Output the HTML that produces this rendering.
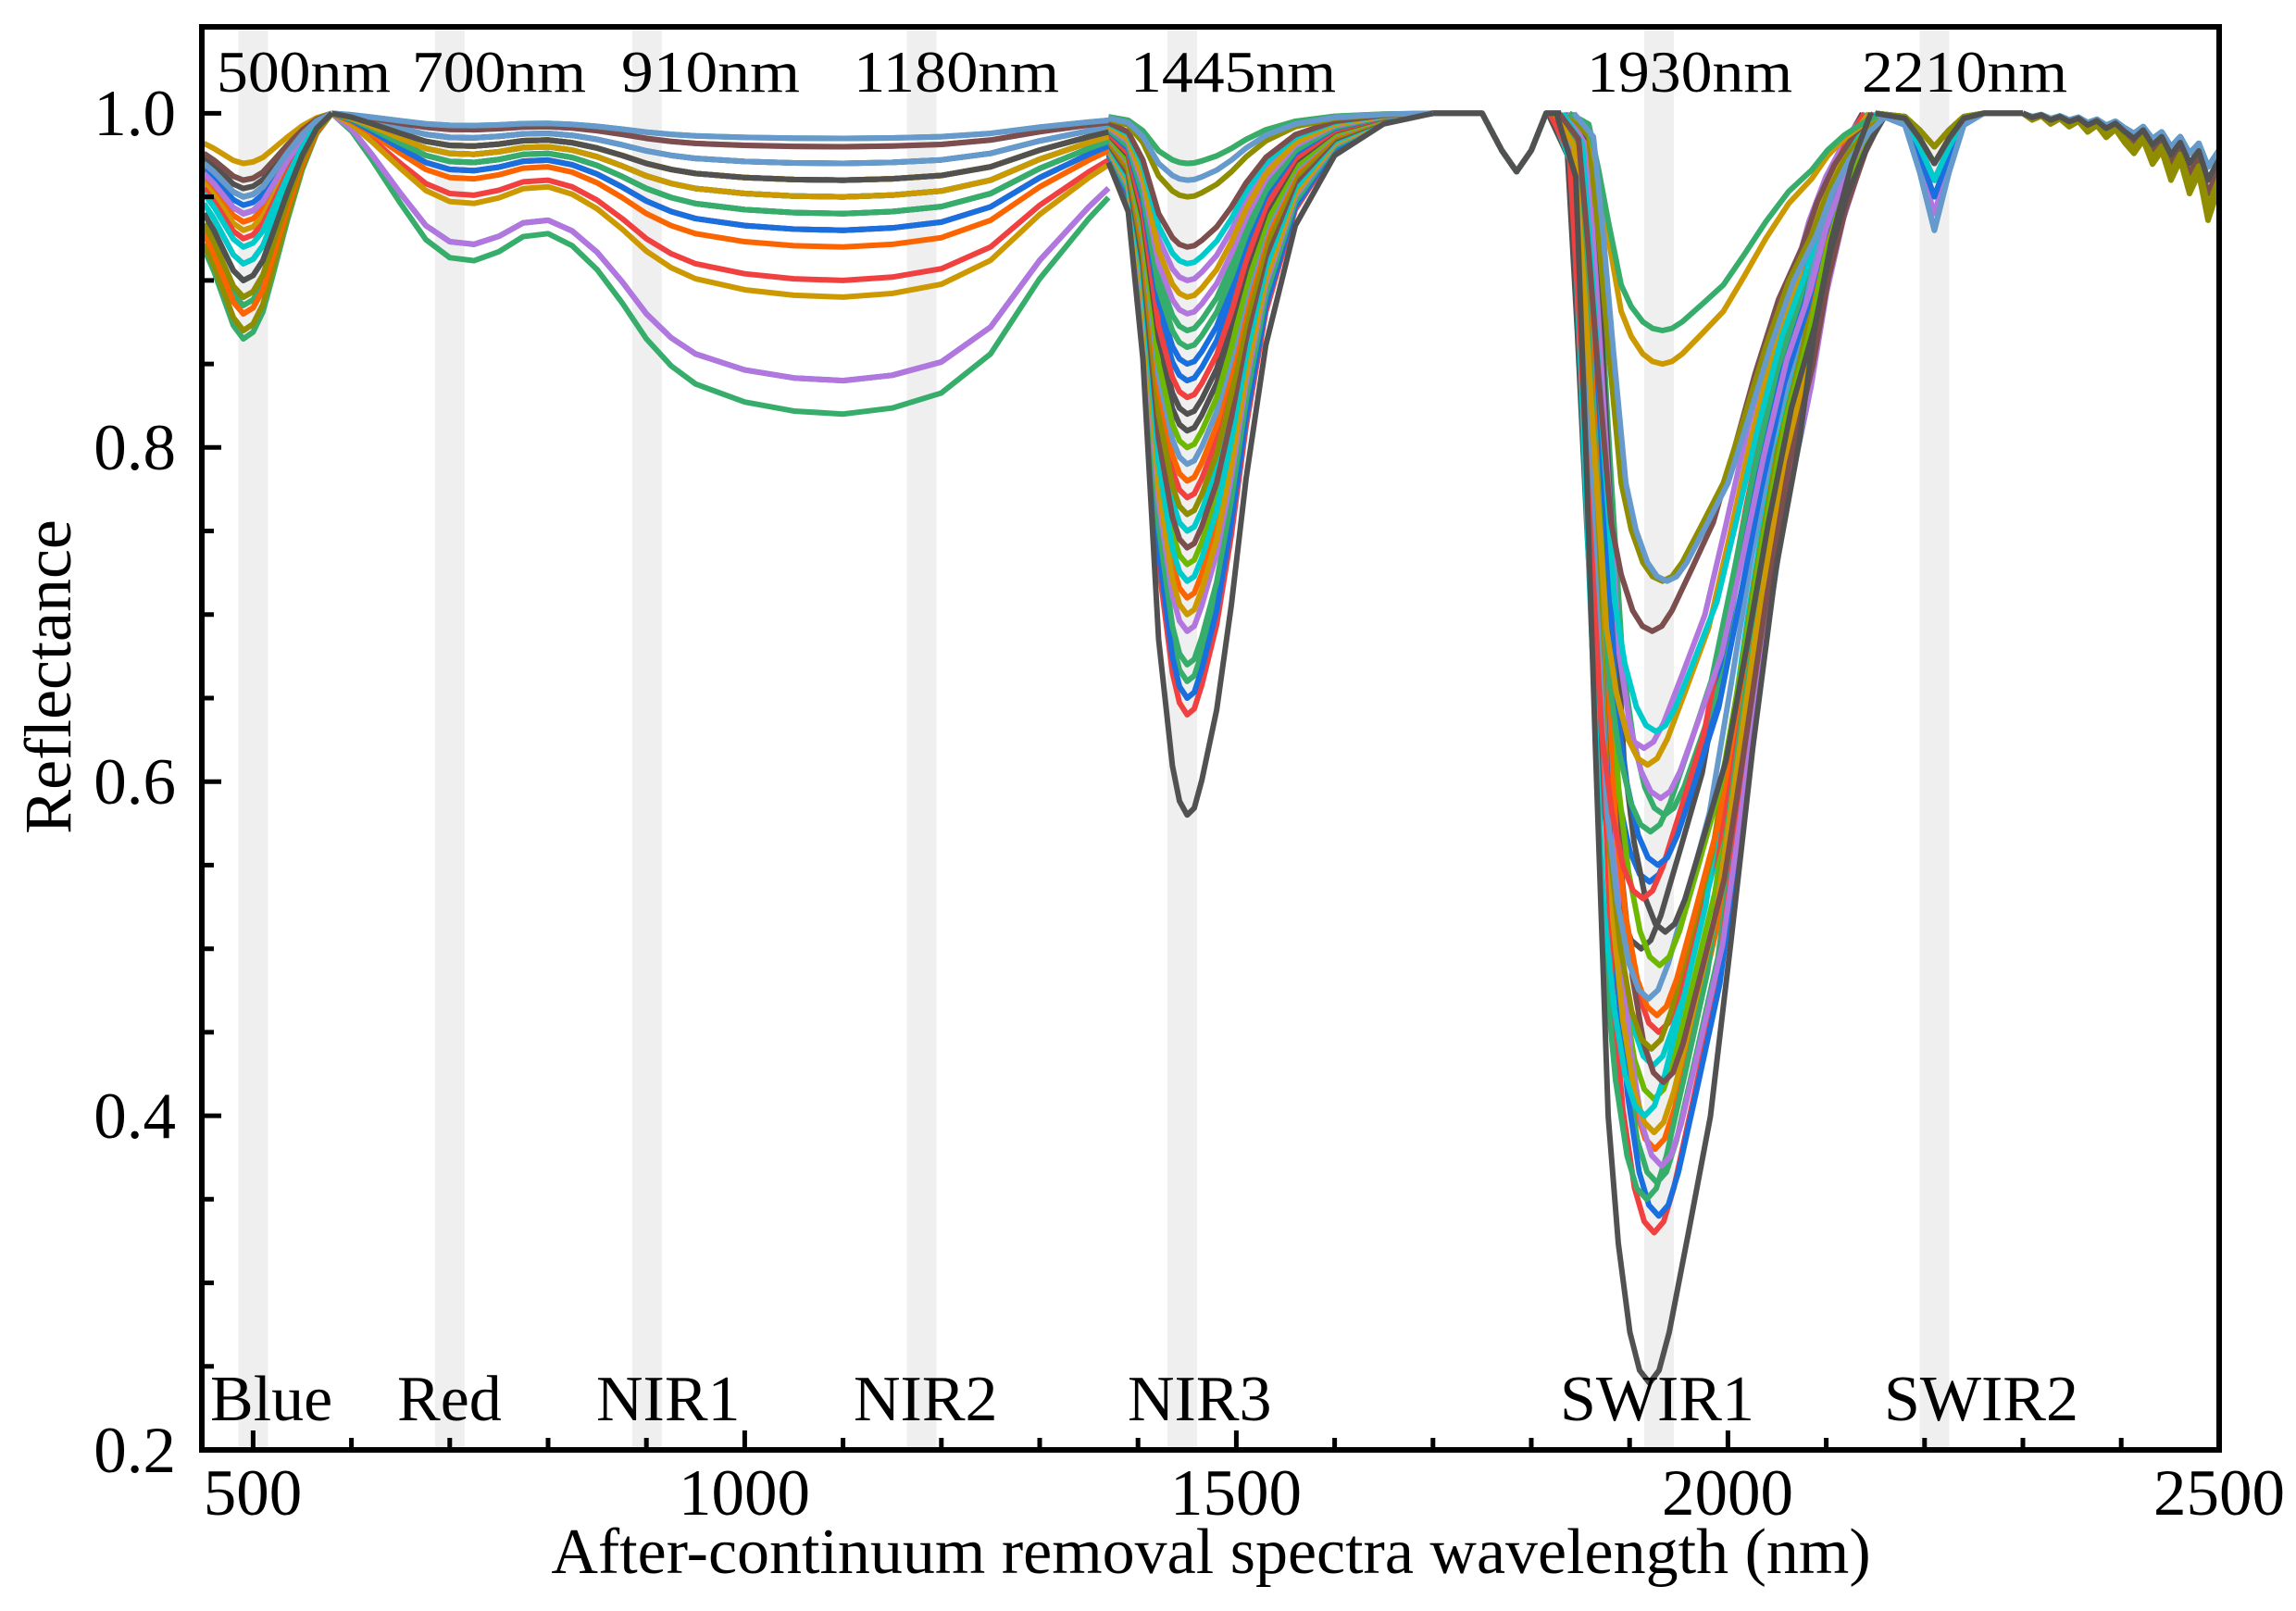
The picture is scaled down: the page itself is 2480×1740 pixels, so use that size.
<!DOCTYPE html>
<html><head><meta charset="utf-8">
<style>html,body{margin:0;padding:0;background:#fff;}svg{display:block;}</style>
</head><body>
<svg width="2480" height="1740" viewBox="0 0 2480 1740" xmlns="http://www.w3.org/2000/svg" xmlns:xlink="http://www.w3.org/1999/xlink" font-family="'Liberation Serif', serif">
<defs>
<path id="a" vector-effect="non-scaling-stroke" d="M220.3,60 L231,70 L241.5,82 L252,94 L262.8,100 L273.4,97 L284,88 L294.6,72 L310,48 L326.5,25 L342,9 L358.4,0"/>
<path id="b" vector-effect="non-scaling-stroke" d="M358.4,0 L380,6 L400.8,15 L432.7,30 L460,42 L485.8,48 L512,49 L538.9,46 L565,41 L592,40 L618,44 L645.1,52 L672,63 L698.2,75 L725,84 L751.3,90 L804.4,96 L857.5,99 L910.6,100 L963.7,98 L1016.8,93 L1069.9,80 L1123,55 L1176.1,35 L1197.3,28"/>
<path id="c" vector-effect="non-scaling-stroke" d="M1197.3,7 L1218.6,14 L1234.5,35 L1243,55 L1251.5,75 L1266.4,93 L1274,98 L1282.3,100 L1290,99 L1298.2,95 L1314.2,85 L1330.1,70 L1346,52 L1367.3,33 L1399.1,16 L1441.6,6 L1494.7,1.5 L1547.8,0"/>
<path id="s" vector-effect="non-scaling-stroke" d="M1547.8,0 L1600.9,0 L1622.1,40 L1638.1,63 L1654,40 L1670,0 L1686,0"/>
<path id="d" vector-effect="non-scaling-stroke" d="M1686,0 L1707.1,5 L1717.7,26 L1728.3,50 L1742.1,79 L1753,89 L1765.5,96 L1776,99 L1786.7,100 L1797,99 L1808,96 L1829.2,88 L1852.5,79 L1875,65 L1898.2,50 L1923,36 L1948.1,26 L1965,17 L1983.2,10 L2005,4 L2025.7,0"/>
<path id="e" vector-effect="non-scaling-stroke" d="M2025.7,0 L2057.6,10 L2073.5,50 L2089.4,100 L2105.3,50 L2121.2,10 L2142.5,0 L2185,0"/>
<path id="f" vector-effect="non-scaling-stroke" d="M2185,0 L2195,5 L2205,2 L2215,8 L2225,4 L2235,10 L2245,6 L2255,14 L2265,9 L2275,18 L2285,12 L2295,22 L2305,30 L2315,20 L2325,38 L2335,28 L2345,50 L2355,35 L2365,60 L2375,45 L2385,80 L2397,55"/>
</defs>
<rect width="2480" height="1740" fill="#fff"/>
<g fill="#efefef">
<rect x="257.4" y="32" width="32" height="1531"/>
<rect x="469.8" y="32" width="32" height="1531"/>
<rect x="682.8" y="32" width="32" height="1531"/>
<rect x="979.6" y="32" width="32" height="1531"/>
<rect x="1261" y="32" width="32" height="1531"/>
<rect x="1776.1" y="32" width="32" height="1531"/>
<rect x="2073.4" y="32" width="32" height="1531"/>
</g>
<g fill="none" stroke-width="6" stroke-linejoin="round">
<g stroke="#FB6501"><use href="#a" transform="translate(0,122.4) scale(1,1.173)"/><use href="#b" transform="translate(0,122.4) scale(1,.722)"/><use href="#c" transform="translate(0,122.4) scale(1,5.233)"/><use href="#s" transform="translate(0,122.4)"/><use href="#d" transform="translate(1,122.4) scale(1,11.188)"/><use href="#e" transform="translate(0,122.4) scale(1,.541)"/><use href="#f" transform="translate(0,122.4) scale(1,.902)"/></g>
<g stroke="#00CBCC"><use href="#a" transform="translate(0,122.4) scale(1,.722)"/><use href="#b" transform="translate(0,122.4) scale(1,.541)"/><use href="#c" transform="translate(0,122.4) scale(1,4.511)"/><use href="#s" transform="translate(0,122.4)"/><use href="#d" transform="translate(-1,122.4) scale(1,10.286)"/><use href="#e" transform="translate(0,122.4) scale(1,.361)"/><use href="#f" transform="translate(0,122.4) scale(1,.722)"/></g>
<g stroke="#37AD6B"><use href="#a" transform="translate(0,122.4) scale(1,2.075)"/><use href="#b" transform="translate(0,122.4) scale(1,.902)"/><use href="#c" transform="translate(0,122.4) scale(1,6.135)"/><use href="#s" transform="translate(0,122.4)"/><use href="#d" transform="translate(3,122.4) scale(1,11.549)"/><use href="#e" transform="translate(0,122.4) scale(1,.541)"/><use href="#f" transform="translate(0,122.4) scale(1,1.083)"/></g>
<g stroke="#6FB802"><use href="#a" transform="translate(0,122.4) scale(1,.722)"/><use href="#b" transform="translate(0,122.4) scale(1,.722)"/><use href="#c" transform="translate(0,122.4) scale(1,4.872)"/><use href="#s" transform="translate(0,122.4)"/><use href="#d" transform="translate(0,122.4) scale(1,10.647)"/><use href="#e" transform="translate(0,122.4) scale(1,.541)"/><use href="#f" transform="translate(0,122.4) scale(1,1.083)"/></g>
<g stroke="#515151"><use href="#a" transform="translate(0,122.4) scale(1,.812)"/><use href="#b" transform="translate(0,122.4) scale(1,.541)"/><use href="#c" transform="translate(0,122.4) scale(1,3.429)"/><use href="#s" transform="translate(0,122.4)"/><use href="#d" transform="translate(-14,122.4) scale(1,9.023)"/><use href="#e" transform="translate(0,122.4) scale(1,.361)"/><use href="#f" transform="translate(0,122.4) scale(1,.902)"/></g>
<g stroke="#F14040"><use href="#a" transform="translate(0,122.4) scale(1,1.624)"/><use href="#b" transform="translate(0,122.4) scale(1,.722)"/><use href="#c" transform="translate(0,122.4) scale(1,4.150)"/><use href="#s" transform="translate(0,122.4)"/><use href="#d" transform="translate(5,122.4) scale(1,9.925)"/><use href="#e" transform="translate(0,122.4) scale(1,.541)"/><use href="#f" transform="translate(0,122.4) scale(1,1.083)"/></g>
<g stroke="#1A6FDF"><use href="#a" transform="translate(0,122.4) scale(1,.992)"/><use href="#b" transform="translate(0,122.4) scale(1,1.263)"/><use href="#c" transform="translate(0,122.4) scale(1,2.887)"/><use href="#s" transform="translate(0,122.4)"/><use href="#d" transform="translate(-5,122.4) scale(1,8.301)"/><use href="#e" transform="translate(0,122.4) scale(1,.722)"/><use href="#f" transform="translate(0,122.4) scale(1,.902)"/></g>
<g stroke="#37AD6B"><use href="#a" transform="translate(0,122.4) scale(1,1.805)"/><use href="#b" transform="translate(0,122.4) scale(1,.902)"/><use href="#c" transform="translate(0,122.4) scale(1,2.346)"/><use href="#s" transform="translate(0,122.4)"/><use href="#d" transform="translate(11,122.4) scale(1,7.579)"/><use href="#e" transform="translate(0,122.4) scale(1,.541)"/><use href="#f" transform="translate(0,122.4) scale(1,1.083)"/></g>
<g stroke="#B177DE"><use href="#a" transform="translate(0,122.4) scale(1,.902)"/><use href="#b" transform="translate(0,122.4) scale(1,.361)"/><use href="#c" transform="translate(0,122.4) scale(1,1.805)"/><use href="#s" transform="translate(0,122.4)"/><use href="#d" transform="translate(-11,122.4) scale(1,6.857)"/><use href="#e" transform="translate(0,122.4) scale(1,.361)"/><use href="#f" transform="translate(0,122.4) scale(1,.902)"/></g>
<g stroke="#F14040"><use href="#a" transform="translate(0,122.4) scale(1,2.165)"/><use href="#b" transform="translate(0,122.4) scale(1,1.805)"/><use href="#c" transform="translate(0,122.4) scale(1,6.496)"/><use href="#s" transform="translate(0,122.4)"/><use href="#d" transform="translate(0,122.4) scale(1,12.090)"/><use href="#e" transform="translate(0,122.4) scale(1,.722)"/><use href="#f" transform="translate(0,122.4) scale(1,1.083)"/></g>
<g stroke="#1A6FDF"><use href="#a" transform="translate(0,122.4) scale(1,1.083)"/><use href="#b" transform="translate(0,122.4) scale(1,2.887)"/><use href="#c" transform="translate(0,122.4) scale(1,6.316)"/><use href="#s" transform="translate(0,122.4)"/><use href="#d" transform="translate(5,122.4) scale(1,11.910)"/><use href="#e" transform="translate(0,122.4) scale(1,.902)"/><use href="#f" transform="translate(0,122.4) scale(1,.722)"/></g>
<g stroke="#37AD6B"><use href="#a" transform="translate(0,122.4) scale(1,2.436)"/><use href="#b" transform="translate(0,122.4) scale(1,3.248)"/><use href="#c" transform="translate(0,122.4) scale(1,5.955)"/><use href="#s" transform="translate(0,122.4)"/><use href="#d" transform="translate(-8,122.4) scale(1,11.729)"/><use href="#e" transform="translate(0,122.4) scale(1,.541)"/><use href="#f" transform="translate(0,122.4) scale(1,1.263)"/></g>
<g stroke="#B177DE"><use href="#a" transform="translate(0,122.4) scale(1,2.346)"/><use href="#b" transform="translate(0,122.4) scale(1,2.887)"/><use href="#c" transform="translate(0,122.4) scale(1,5.594)"/><use href="#s" transform="translate(0,122.4)"/><use href="#d" transform="translate(8,122.4) scale(1,11.368)"/><use href="#e" transform="translate(0,122.4) scale(1,1.083)"/><use href="#f" transform="translate(0,122.4) scale(1,.902)"/></g>
<g stroke="#CC9900"><use href="#a" transform="translate(0,122.4) scale(1,1.263)"/><use href="#b" transform="translate(0,122.4) scale(1,1.985)"/><use href="#c" transform="translate(0,122.4) scale(1,5.414)"/><use href="#s" transform="translate(0,122.4)"/><use href="#d" transform="translate(0,122.4) scale(1,11.007)"/><use href="#e" transform="translate(0,122.4) scale(1,.722)"/><use href="#f" transform="translate(0,122.4) scale(1,1.083)"/></g>
<g stroke="#00CBCC"><use href="#a" transform="translate(0,122.4) scale(1,1.624)"/><use href="#b" transform="translate(0,122.4) scale(1,1.083)"/><use href="#c" transform="translate(0,122.4) scale(1,5.053)"/><use href="#s" transform="translate(0,122.4)"/><use href="#d" transform="translate(-10,122.4) scale(1,10.827)"/><use href="#e" transform="translate(0,122.4) scale(1,1.263)"/><use href="#f" transform="translate(0,122.4) scale(1,.722)"/></g>
<g stroke="#7D4E4E"><use href="#a" transform="translate(0,122.4) scale(1,1.985)"/><use href="#b" transform="translate(0,122.4) scale(1,.902)"/><use href="#c" transform="translate(0,122.4) scale(1,4.692)"/><use href="#s" transform="translate(0,122.4)"/><use href="#d" transform="translate(10,122.4) scale(1,10.466)"/><use href="#e" transform="translate(0,122.4) scale(1,.541)"/><use href="#f" transform="translate(0,122.4) scale(1,1.083)"/></g>
<g stroke="#8E8E00"><use href="#a" transform="translate(0,122.4) scale(1,2.346)"/><use href="#b" transform="translate(0,122.4) scale(1,.722)"/><use href="#c" transform="translate(0,122.4) scale(1,4.331)"/><use href="#s" transform="translate(0,122.4)"/><use href="#d" transform="translate(-3,122.4) scale(1,10.105)"/><use href="#e" transform="translate(0,122.4) scale(1,.361)"/><use href="#f" transform="translate(0,122.4) scale(1,1.444)"/></g>
<g stroke="#FB6501"><use href="#a" transform="translate(0,122.4) scale(1,2.165)"/><use href="#b" transform="translate(0,122.4) scale(1,1.444)"/><use href="#c" transform="translate(0,122.4) scale(1,3.970)"/><use href="#s" transform="translate(0,122.4)"/><use href="#d" transform="translate(3,122.4) scale(1,9.744)"/><use href="#e" transform="translate(0,122.4) scale(1,.722)"/><use href="#f" transform="translate(0,122.4) scale(1,.902)"/></g>
<g stroke="#6699CC"><use href="#a" transform="translate(0,122.4) scale(1,1.083)"/><use href="#b" transform="translate(0,122.4) scale(1,.541)"/><use href="#c" transform="translate(0,122.4) scale(1,3.789)"/><use href="#s" transform="translate(0,122.4)"/><use href="#d" transform="translate(-6,122.4) scale(1,9.564)"/><use href="#e" transform="translate(0,122.4) scale(1,1.263)"/><use href="#f" transform="translate(0,122.4) scale(1,.722)"/></g>
<g stroke="#6FB802"><use href="#a" transform="translate(0,122.4) scale(1,.902)"/><use href="#b" transform="translate(0,122.4) scale(1,.902)"/><use href="#c" transform="translate(0,122.4) scale(1,3.609)"/><use href="#s" transform="translate(0,122.4)"/><use href="#d" transform="translate(6,122.4) scale(1,9.203)"/><use href="#e" transform="translate(0,122.4) scale(1,.541)"/><use href="#f" transform="translate(0,122.4) scale(1,1.083)"/></g>
<g stroke="#515151"><use href="#a" transform="translate(0,122.4) scale(1,.902)"/><use href="#b" transform="translate(0,122.4) scale(1,1.083)"/><use href="#c" transform="translate(0,122.4) scale(1,3.248)"/><use href="#s" transform="translate(0,122.4)"/><use href="#d" transform="translate(12,122.4) scale(1,8.842)"/><use href="#e" transform="translate(0,122.4) scale(1,.361)"/><use href="#f" transform="translate(0,122.4) scale(1,.902)"/></g>
<g stroke="#F14040"><use href="#a" transform="translate(0,122.4) scale(1,1.353)"/><use href="#b" transform="translate(0,122.4) scale(1,1.263)"/><use href="#c" transform="translate(0,122.4) scale(1,3.068)"/><use href="#s" transform="translate(0,122.4)"/><use href="#d" transform="translate(-12,122.4) scale(1,8.481)"/><use href="#e" transform="translate(0,122.4) scale(1,.722)"/><use href="#f" transform="translate(0,122.4) scale(1,1.263)"/></g>
<g stroke="#1A6FDF"><use href="#a" transform="translate(0,122.4) scale(1,1.083)"/><use href="#b" transform="translate(0,122.4) scale(1,1.263)"/><use href="#c" transform="translate(0,122.4) scale(1,2.707)"/><use href="#s" transform="translate(0,122.4)"/><use href="#d" transform="translate(4,122.4) scale(1,8.120)"/><use href="#e" transform="translate(0,122.4) scale(1,.902)"/><use href="#f" transform="translate(0,122.4) scale(1,.722)"/></g>
<g stroke="#37AD6B"><use href="#a" transform="translate(0,122.4) scale(1,1.805)"/><use href="#b" transform="translate(0,122.4) scale(1,1.083)"/><use href="#c" transform="translate(0,122.4) scale(1,2.526)"/><use href="#s" transform="translate(0,122.4)"/><use href="#d" transform="translate(-4,122.4) scale(1,7.759)"/><use href="#e" transform="translate(0,122.4) scale(1,.541)"/><use href="#f" transform="translate(0,122.4) scale(1,.902)"/></g>
<g stroke="#B177DE"><use href="#a" transform="translate(0,122.4) scale(1,1.083)"/><use href="#b" transform="translate(0,122.4) scale(1,.902)"/><use href="#c" transform="translate(0,122.4) scale(1,2.165)"/><use href="#s" transform="translate(0,122.4)"/><use href="#d" transform="translate(7,122.4) scale(1,7.398)"/><use href="#e" transform="translate(0,122.4) scale(1,.722)"/><use href="#f" transform="translate(0,122.4) scale(1,1.083)"/></g>
<g stroke="#CC9900"><use href="#a" transform="translate(0,122.4) scale(1,.541)"/><use href="#b" transform="translate(0,122.4) scale(1,.722)"/><use href="#c" transform="translate(0,122.4) scale(1,1.985)"/><use href="#s" transform="translate(0,122.4)"/><use href="#d" transform="translate(-7,122.4) scale(1,7.038)"/><use href="#e" transform="translate(0,122.4) scale(1,.361)"/><use href="#f" transform="translate(0,122.4) scale(1,.722)"/></g>
<g stroke="#00CBCC"><use href="#a" transform="translate(0,122.4) scale(1,1.444)"/><use href="#b" transform="translate(0,122.4) scale(1,.902)"/><use href="#c" transform="translate(0,122.4) scale(1,1.624)"/><use href="#s" transform="translate(0,122.4)"/><use href="#d" transform="translate(2,122.4) scale(1,6.677)"/><use href="#e" transform="translate(0,122.4) scale(1,.722)"/><use href="#f" transform="translate(0,122.4) scale(1,.902)"/></g>
<g stroke="#7D4E4E"><use href="#a" transform="translate(0,122.4) scale(1,.722)"/><use href="#b" transform="translate(0,122.4) scale(1,.361)"/><use href="#c" transform="translate(0,122.4) scale(1,1.444)"/><use href="#s" transform="translate(0,122.4)"/><use href="#d" transform="translate(-2,122.4) scale(1,5.594)"/><use href="#e" transform="translate(0,122.4) scale(1,.541)"/><use href="#f" transform="translate(0,122.4) scale(1,1.083)"/></g>
<g stroke="#8E8E00"><use href="#a" transform="translate(0,122.4) scale(1,1.985)"/><use href="#b" transform="translate(0,122.4) scale(1,.722)"/><use href="#c" transform="translate(0,122.4) scale(1,.902)"/><use href="#s" transform="translate(0,122.4)"/><use href="#d" transform="translate(9,122.4) scale(1,5.053)"/><use href="#e" transform="translate(0,122.4) scale(1,.361)"/><use href="#f" transform="translate(0,122.4) scale(1,1.263)"/></g>
<g stroke="#CC9900"><use href="#a" transform="translate(0,122.4) scale(1,.902)"/><use href="#b" transform="translate(0,122.4) scale(1,.902)"/><use href="#c" transform="translate(0,122.4) scale(1,.541)"/><use href="#s" transform="translate(0,122.4)"/><use href="#d" transform="translate(9,122.4) scale(1,2.707)"/><use href="#e" transform="translate(0,122.4) scale(1,.541)"/><use href="#f" transform="translate(0,122.4) scale(1,.902)"/></g>
<g stroke="#37AD6B"><use href="#a" transform="translate(0,122.4) scale(1,.902)"/><use href="#b" transform="translate(0,122.4) scale(1,.271)"/><use href="#c" transform="translate(0,122.4) scale(1,.541)"/><use href="#s" transform="translate(0,122.4)"/><use href="#d" transform="translate(9,122.4) scale(1,2.346)"/><use href="#e" transform="translate(0,122.4) scale(1,.541)"/><use href="#f" transform="translate(0,122.4) scale(1,.722)"/></g>
<g stroke="#6699CC"><use href="#a" transform="translate(0,122.4) scale(1,.902)"/><use href="#b" transform="translate(0,122.4) scale(1,.271)"/><use href="#c" transform="translate(0,122.4) scale(1,.722)"/><use href="#s" transform="translate(0,122.4)"/><use href="#d" transform="translate(14,122.4) scale(1,5.053)"/><use href="#e" transform="translate(0,122.4) scale(1,1.263)"/><use href="#f" transform="translate(0,122.4) scale(1,.722)"/></g>
<g stroke="#515151"><use href="#a" transform="translate(0,122.4) scale(1,1.805)"/><use href="#b" transform="translate(0,122.4) scale(1,.722)"/><use href="#c" transform="translate(0,122.4) scale(1,7.579)"/><use href="#s" transform="translate(0,122.4)"/><use href="#d" transform="translate(-5,122.4) scale(1,13.714)"/><use href="#e" transform="translate(0,122.4) scale(1,.541)"/><use href="#f" transform="translate(0,122.4) scale(1,.902)"/></g>
</g>
<rect x="218" y="29" width="2179" height="1537" fill="none" stroke="#000" stroke-width="6"/>
<path stroke="#000" stroke-width="5" fill="none" d="M273.4 1563v-18M379.6 1563v-10M485.8 1563v-10M592 1563v-10M698.2 1563v-10M804.4 1563v-18M910.6 1563v-10M1016.8 1563v-10M1123 1563v-10M1229.2 1563v-10M1335.4 1563v-18M1441.6 1563v-10M1547.8 1563v-10M1654 1563v-10M1760.2 1563v-10M1866.4 1563v-18M1972.6 1563v-10M2078.8 1563v-10M2185 1563v-10M2291.2 1563v-10 M221 122.4h18M221 212.6h10M221 302.9h10M221 393.1h10M221 483.3h18M221 573.5h10M221 663.8h10M221 754h10M221 844.2h18M221 934.4h10M221 1024.7h10M221 1114.9h10M221 1205.1h18M221 1295.3h10M221 1385.6h10M221 1475.8h10"/>
<g font-size="64" fill="#000">
<text x="234" y="99" textLength="188" lengthAdjust="spacingAndGlyphs">500nm</text>
<text x="445" y="99" textLength="188" lengthAdjust="spacingAndGlyphs">700nm</text>
<text x="671" y="99" textLength="193" lengthAdjust="spacingAndGlyphs">910nm</text>
<text x="922" y="99" textLength="222" lengthAdjust="spacingAndGlyphs">1180nm</text>
<text x="1221" y="99" textLength="222" lengthAdjust="spacingAndGlyphs">1445nm</text>
<text x="1714" y="99" textLength="222" lengthAdjust="spacingAndGlyphs">1930nm</text>
<text x="2011" y="99" textLength="222" lengthAdjust="spacingAndGlyphs">2210nm</text>
</g>
<g font-size="70" fill="#000">
<text x="227" y="1534">Blue</text>
<text x="429" y="1534">Red</text>
<text x="644" y="1534">NIR1</text>
<text x="922" y="1534">NIR2</text>
<text x="1218" y="1534">NIR3</text>
<text x="1685" y="1534">SWIR1</text>
<text x="2035" y="1534">SWIR2</text>
</g>
<g font-size="71" fill="#000" text-anchor="end">
<text x="190" y="146">1.0</text>
<text x="190" y="507">0.8</text>
<text x="190" y="868">0.6</text>
<text x="190" y="1229">0.4</text>
<text x="190" y="1590">0.2</text>
</g>
<g font-size="71" fill="#000" text-anchor="middle">
<text x="273" y="1636">500</text>
<text x="804" y="1636">1000</text>
<text x="1335" y="1636">1500</text>
<text x="1866" y="1636">2000</text>
<text x="2397" y="1636">2500</text>
<text x="1308" y="1699" font-size="70">After-continuum removal spectra wavelength (nm)</text>
<text transform="translate(76,731) rotate(-90)" font-size="72">Reflectance</text>
</g>
</svg>
</body></html>
